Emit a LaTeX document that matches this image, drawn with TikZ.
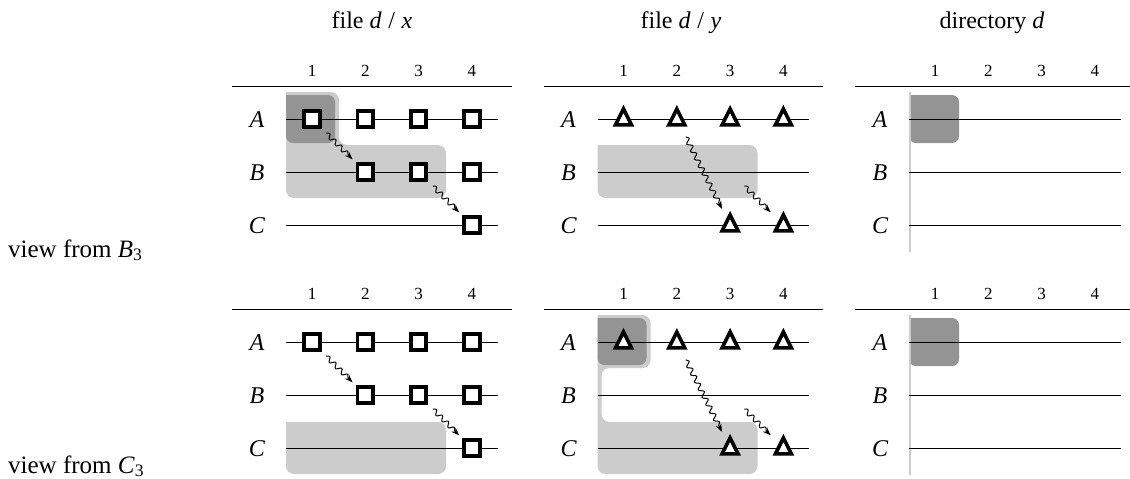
\documentclass[tikz,border=0pt]{standalone}
\usepackage{fontspec}
\setmainfont{Liberation Serif}
\usetikzlibrary{calc,shapes.geometric,decorations.pathmorphing,arrows.meta}
\begin{document}
\begin{tikzpicture}[x=1pt,y=-1pt]
\tikzstyle{sqmark}=[draw,rectangle,line width=3.8pt,fill=white,minimum size=15.5pt,inner sep=0pt]
\tikzstyle{trimark}=[draw,isosceles triangle,isosceles triangle stretches,shape border rotate=90,line width=3.6pt,fill=white,minimum width=16pt,minimum height=16pt,inner sep=0pt,yshift=-1pt]
\tikzstyle{wavy}=[-{Stealth[length=8pt,width=6pt]},line width=1pt,decorate,decoration={snake,amplitude=2.4pt,segment length=8.5pt,post length=5pt}]
\tikzstyle{lightshade}=[fill=black!20]
\tikzstyle{darkshade}=[fill=black!42]
\tikzstyle{rowline}=[line width=0.9pt]
\tikzstyle{headline}=[line width=1.3pt]
\tikzstyle{colnum}=[font=\fontsize{17}{20}\selectfont,anchor=base,inner sep=0pt]
\tikzstyle{rowlab}=[font=\fontsize{24}{28}\selectfont\itshape,anchor=base,inner sep=0pt]
\tikzstyle{paneltitle}=[font=\fontsize{24}{28}\selectfont,anchor=base,inner sep=0pt]
\tikzstyle{viewlab}=[font=\fontsize{25}{29}\selectfont,anchor=base west,inner sep=0pt]
\useasboundingbox (0,0) rectangle (1130,479);

% grid points: block (t/b), panel, row, column
\foreach \blk/\dy in {t/0,b/223}
  \foreach \p/\dx in {1/0,2/311.5,3/623}
    \foreach \r/\ry in {A/119,B/172,C/225}
      \foreach \c in {1,2,3,4}
        \coordinate (\blk\p\r\c) at ({312+\dx+53.3*(\c-1)},{\ry+\dy});

% shaded regions
\begin{scope}[shift={(t1A1)}]
\fill[lightshade] (-26,-27) [rounded corners=8pt] -- (27,-27) -- (27,26) -- (134,26) -- (134,79) -- (-26,79) [sharp corners] -- cycle;
\fill[darkshade] (-26,-24) [rounded corners=7pt] -- (23,-24) -- (23,24) -- (-26,24) [sharp corners] -- cycle;
\end{scope}
\begin{scope}[shift={(t2A1)}]
\fill[lightshade] (-26,26) [rounded corners=8pt] -- (134,26) -- (134,79) -- (-26,79) [sharp corners] -- cycle;
\end{scope}
\begin{scope}[shift={(t3A1)}]
\fill[darkshade] (-26,-24) [rounded corners=7pt] -- (24,-24) -- (24,24) -- (-26,24) [sharp corners] -- cycle;
\end{scope}
\begin{scope}[shift={(b1A1)}]
\fill[lightshade] (-26,80) [rounded corners=8pt] -- (134,80) -- (134,132) -- (-26,132) [sharp corners] -- cycle;
\end{scope}
\begin{scope}[shift={(b2A1)}]
\fill[lightshade] (-26,-27) [rounded corners=8pt] -- (27,-27) -- (27,26) -- (-22,26) -- (-22,80) -- (134,80) -- (134,132) -- (-26,132) [sharp corners] -- cycle;
\fill[darkshade] (-26,-24) [rounded corners=7pt] -- (23,-24) -- (23,23) -- (-26,23) [sharp corners] -- cycle;
\end{scope}
\begin{scope}[shift={(b3A1)}]
\fill[darkshade] (-26,-24) [rounded corners=7pt] -- (24,-24) -- (24,24) -- (-26,24) [sharp corners] -- cycle;
\end{scope}

% directory bar
\foreach \blk in {t,b}
  \draw[line width=2.6pt,black!20] ($(\blk3A1)+(-25,-27)$) -- ($(\blk3C1)+(-25,27)$);

% rules, numbers, row labels
\foreach \blk in {t,b}
  \foreach \p in {1,2,3} {
    \draw[headline] ($(\blk\p A1)+(-80,-32.5)$) -- ($(\blk\p A4)+(40,-32.5)$);
    \foreach \c in {1,2,3,4}
      \node[colnum] (\blk\p num\c) at ($(\blk\p A\c)+(0,-43)$) {\c};
    \foreach \r in {A,B,C} {
      \draw[rowline] ($(\blk\p\r1)+(-26,0)$) -- ($(\blk\p\r4)+(26,0)$);
      \node[rowlab] (\blk\p lab\r) at ($(\blk\p\r1)+(-55,8)$) {\r};
    }
  }

% titles
\node[paneltitle] (ttlx) at (372,28) {file \textit{d}\;/\;\textit{x}};
\node[paneltitle] (ttly) at (681,28) {file \textit{d}\;/\;\textit{y}};
\node[paneltitle] (ttld) at (992,28) {directory \textit{d}};
\node[viewlab] (viewB) at (8,257) {view from \textit{B}\textsubscript{3}};
\node[viewlab] (viewC) at (8,473) {view from \textit{C}\textsubscript{3}};

% markers
\foreach \blk in {t,b} {
  \foreach \n in {A1,A2,A3,A4,B2,B3,B4,C4}
    \node[sqmark] (\blk sq\n) at (\blk1\n) {};
  \foreach \n in {A1,A2,A3,A4,C3,C4}
    \node[trimark] (\blk tri\n) at (\blk2\n) {};
}

% messages
\foreach \blk in {t,b}
  \foreach \s/\e in {1A1/1B2,1B3/1C4,2A2/2C3,2B3/2C4}
    \draw[wavy] ($(\blk\s)!20pt!(\blk\e)$) -- ($(\blk\e)!18pt!(\blk\s)$);
\end{tikzpicture}
\end{document}
